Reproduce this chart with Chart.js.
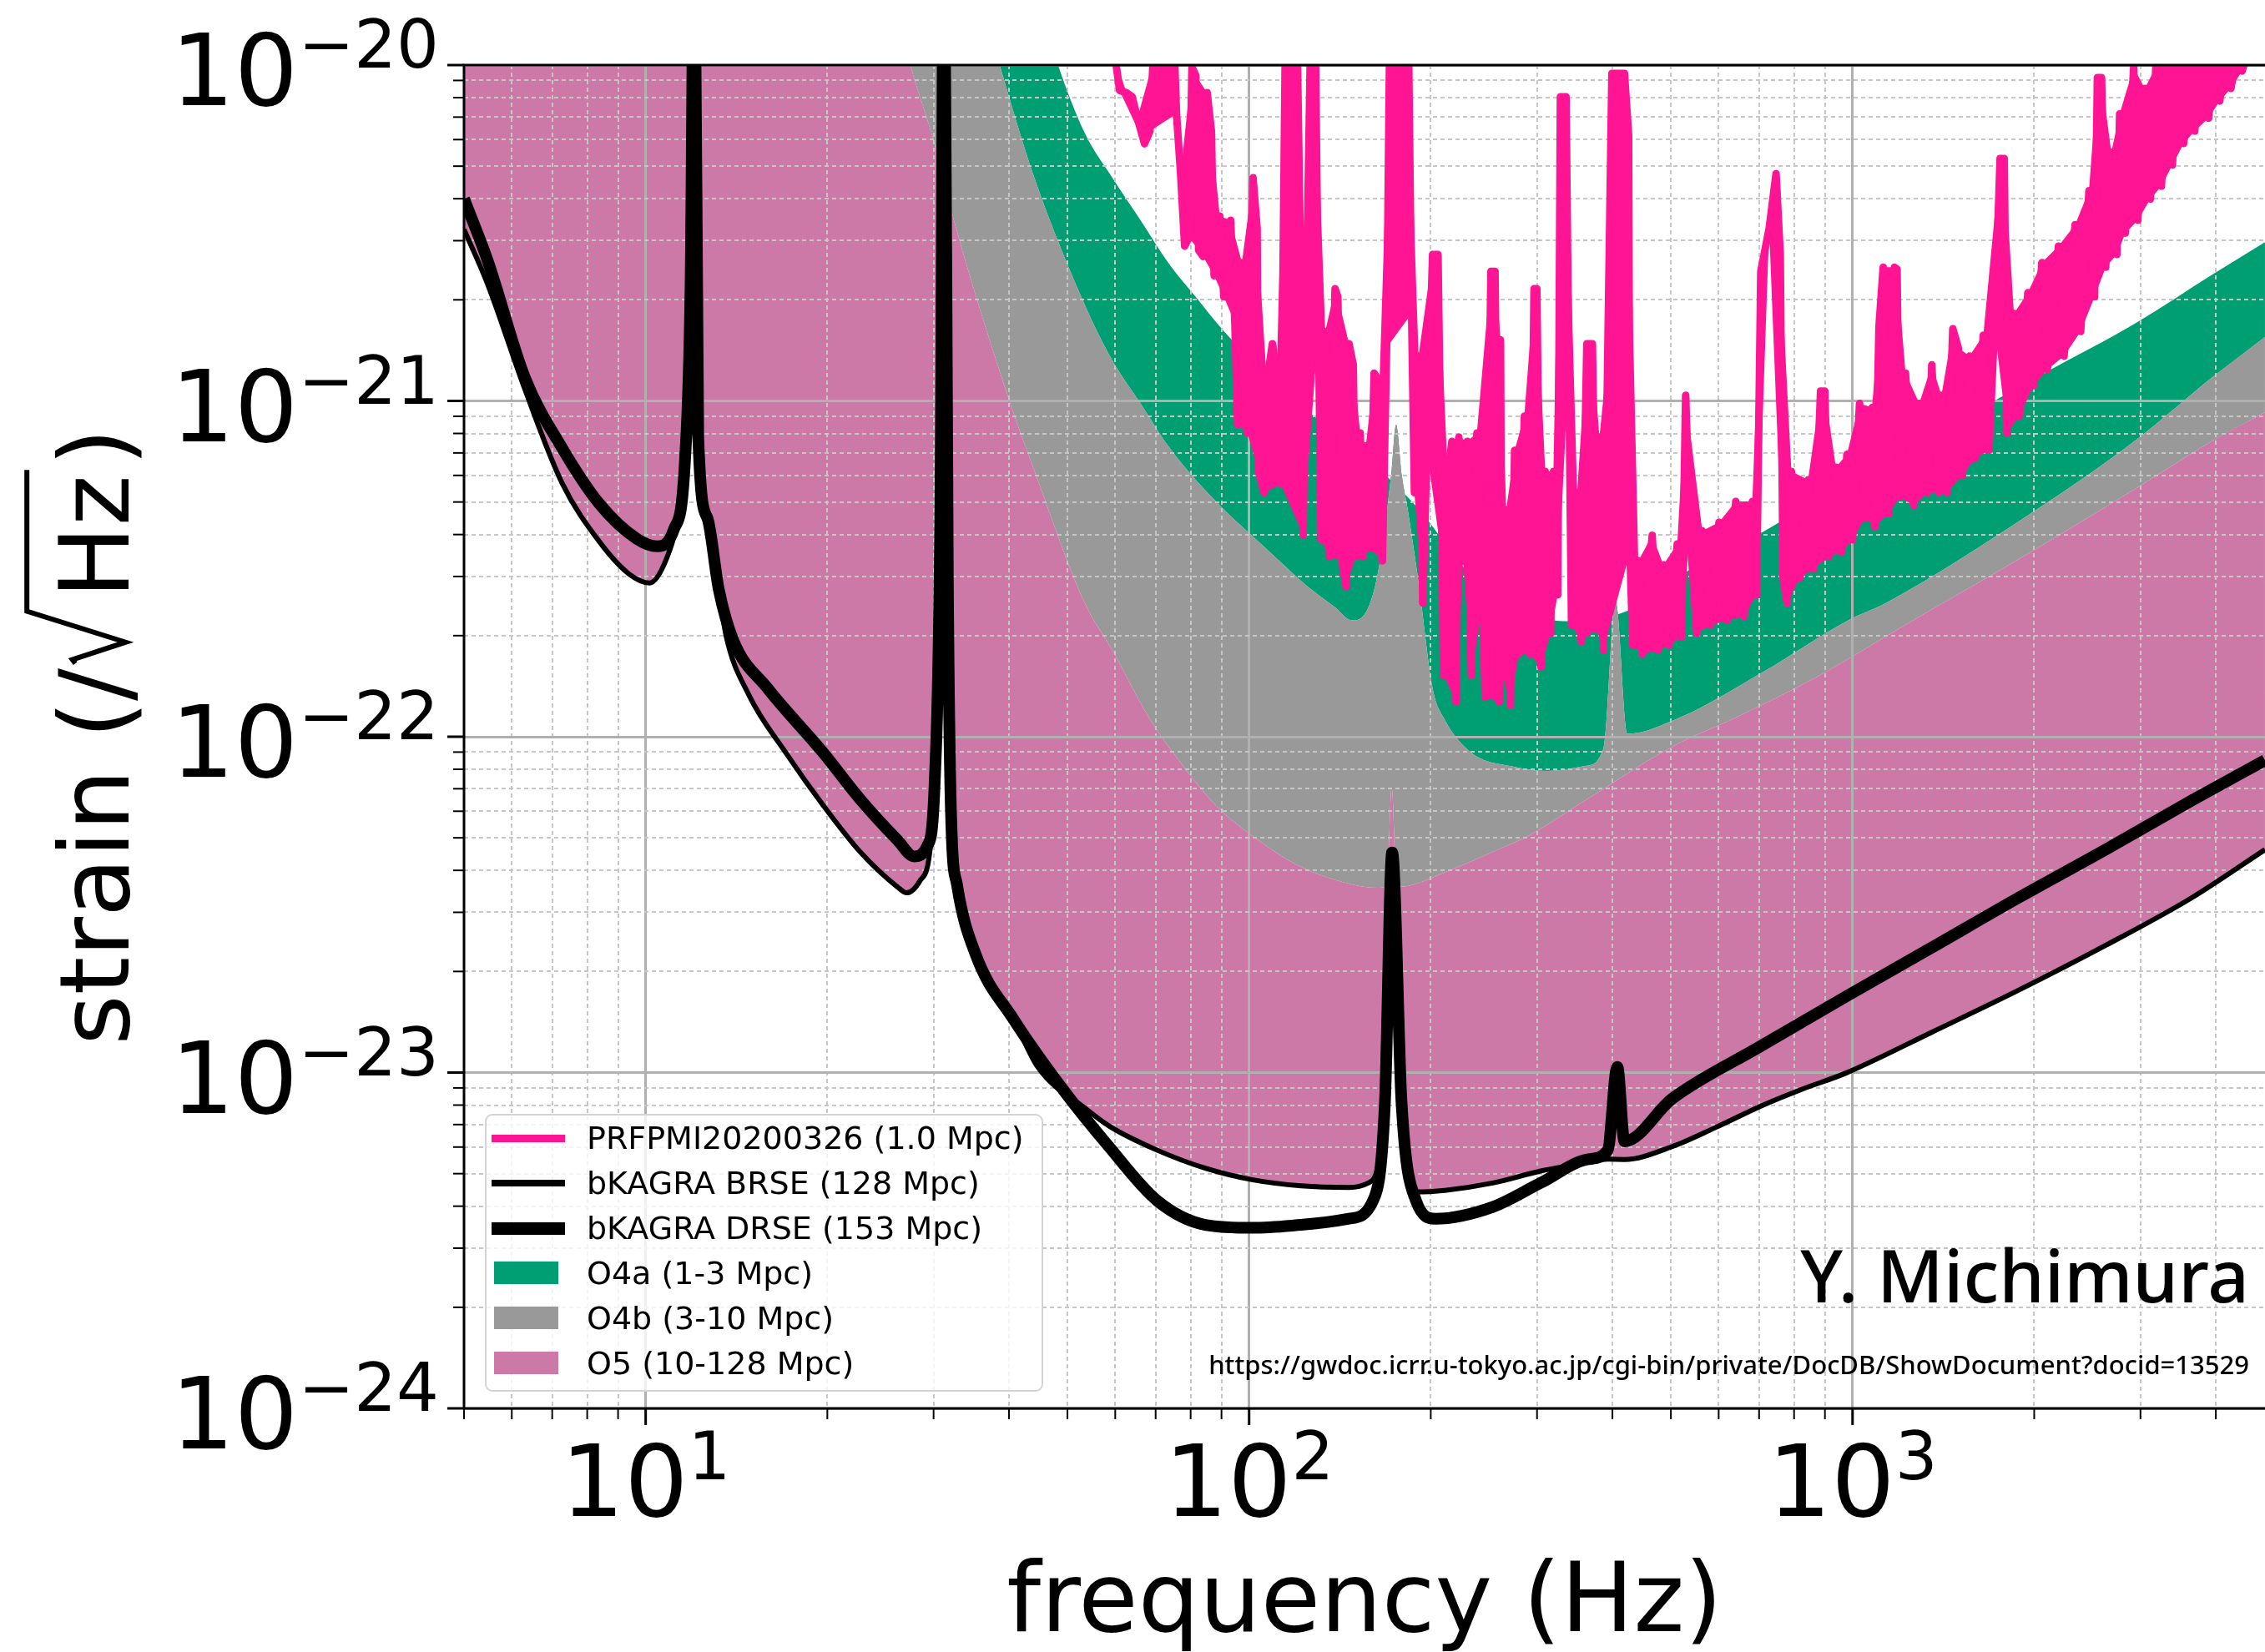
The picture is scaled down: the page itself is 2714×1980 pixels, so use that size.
<!DOCTYPE html>
<html>
<head>
<meta charset="utf-8">
<script src="https://cdn.jsdelivr.net/npm/chart.js@4.4.1/dist/chart.umd.min.js"></script>
<style>
  html, body { margin: 0; padding: 0; background: #fff; overflow: hidden; }
  #wrap { position: relative; width: 2714px; height: 1980px; }
  #chart { position: absolute; left: 0; top: 0; }
  #legend {
    position: absolute; left: 581px; top: 1335px; width: 669px; height: 333px;
    box-sizing: border-box; background: rgba(255,255,255,0.8);
    border: 2px solid #d4d4d4; border-radius: 9px;
    font-family: "DejaVu Sans", sans-serif; font-size: 38px; color: #000;
  }
  #legend .row { position: relative; height: 54px; }
  #legend .key { position: absolute; }
  #legend .text { position: absolute; left: 120px; top: 0; line-height: 54px; white-space: nowrap; }
  .note { position: absolute; right: 19px; font-family: "Noto Sans", sans-serif; color: #000; line-height: 1; white-space: nowrap; }
  #credit { top: 1484px; font-size: 87px; font-weight: 500; }
  #url { top: 1620px; font-size: 31px; font-weight: 500; }
</style>
</head>
<body>
<div id="wrap">
  <canvas id="chart" width="2714" height="1980"></canvas>
  <div id="legend"></div>
  <div id="credit" class="note">Y. Michimura</div>
  <div id="url" class="note">https://gwdoc.icrr.u-tokyo.ac.jp/cgi-bin/private/DocDB/ShowDocument?docid=13529</div>
</div>
<script>
// ── axes ───────────────────────────────────────────────────────────
const freqMin = 5, freqMax = 4825;
const strainMin = 1e-24, strainMax = 1e-20;
const xTickDecades = [10, 100, 1000];
const yTickDecades = [1e-24, 1e-23, 1e-22, 1e-21, 1e-20];

const seriesLabels = [
  'PRFPMI20200326 (1.0 Mpc)',
  'bKAGRA BRSE (128 Mpc)',
  'bKAGRA DRSE (153 Mpc)',
  'O4a (1-3 Mpc)',
  'O4b (3-10 Mpc)',
  'O5 (10-128 Mpc)',
];
const seriesColors = ['#ff1493', '#000000', '#000000', '#009e73', '#999999', '#cc79a7'];

// ── measured PRFPMI spectrum (peaks and troughs of the noisy trace) ─
const prfFreq = [
  60.0, 61.0, 62.6, 64.0, 65.3, 67.1, 68.5, 69.3, 70.0, 75.0,
  75.8, 77.0, 78.2, 79.5, 80.4, 81.6, 82.5, 83.9, 85.2, 86.6,
  87.5, 89.4, 90.8, 93.2, 94.7, 95.7, 97.3, 99.4, 101.5, 103.1,
  103.6, 105.9, 107.0, 109.3, 111.1, 112.9, 114.7, 120.3, 121.6, 122.9,
  124.8, 126.2, 128.9, 130.3, 131.6, 133.7, 135.9, 138.8, 140.3, 142.5,
  144.8, 146.4, 148.8, 150.3, 152.8, 154.4, 156.1, 158.6, 161.1, 164.5,
  166.3, 169.0, 170.8, 183.9, 185.9, 187.9, 190.9, 194.0, 197.1, 201.4,
  205.6, 208.9, 210.0, 213.4, 216.8, 220.3, 222.6, 226.2, 229.8, 233.5,
  238.5, 243.7, 246.2, 251.6, 255.6, 259.7, 261.0, 262.4, 266.7, 271.0,
  275.4, 279.8, 285.8, 291.9, 296.6, 299.8, 304.6, 309.5, 316.0, 319.4,
  324.6, 328.0, 335.1, 338.6, 342.2, 349.6, 355.2, 362.8, 370.6, 376.5,
  380.6, 386.7, 392.9, 399.2, 418.8, 425.5, 427.7, 432.3, 441.5, 448.7,
  465.6, 475.7, 485.8, 496.3, 512.3, 520.7, 529.0, 537.5, 551.9, 563.6,
  581.9, 600.7, 620.1, 640.3, 661.0, 682.3, 693.3, 704.6, 727.4, 746.9,
  758.9, 767.1, 779.4, 791.9, 817.5, 844.0, 861.9, 885.1, 899.5, 914.1,
  938.3, 958.5, 978.8, 1000, 1027, 1049, 1077, 1089, 1106, 1124,
  1148, 1173, 1185, 1198, 1224, 1263, 1290, 1332, 1353, 1389,
  1404, 1434, 1466, 1497, 1521, 1562, 1595, 1647, 1683, 1719,
  1756, 1784, 1803, 1851, 1891, 1952, 1995, 2059, 2103, 2194,
  2241, 2338, 2388, 2465, 2518, 2545, 2586, 2627, 2684, 2742,
  2771, 2831, 2923, 2970, 3049, 3115, 3181, 3250, 3319, 3389,
  3462, 3537, 3612, 3690, 3769, 3891, 3974, 4060, 4147, 4236,
  4327, 4421, 4613, 4917,
];
const prfStrain = [
  1.05e-20, 8.40e-21, 8.28e-21, 8.05e-21, 6.95e-21, 5.83e-21, 6.36e-21, 1.02e-20, 1.24e-20, 1.24e-20,
  7.16e-21, 4.75e-21, 2.89e-21, 3.07e-21, 9.86e-21, 9.30e-21, 2.81e-21, 2.69e-21, 8.28e-21, 6.36e-21,
  2.36e-21, 3.55e-21, 2.04e-21, 3.45e-21, 1.71e-21, 8.50e-22, 2.58e-21, 8.02e-22, 4.62e-21, 3.26e-21,
  6.17e-22, 5.33e-22, 1.14e-21, 1.48e-21, 1.21e-21, 5.65e-22, 9.86e-21, 9.86e-21, 2.81e-21, 3.98e-22,
  2.81e-21, 9.86e-21, 9.86e-21, 1.66e-21, 3.86e-22, 1.61e-21, 3.44e-22, 2.16e-21, 2.04e-21, 3.34e-22,
  2.80e-22, 1.48e-21, 1.28e-21, 3.44e-22, 8.02e-22, 3.44e-22, 7.34e-22, 3.64e-22, 1.21e-21, 1.14e-21,
  3.34e-22, 1.44e-21, 9.86e-21, 9.86e-21, 1.82e-21, 5.33e-22, 1.36e-21, 2.50e-22, 7.13e-22, 2.73e-21,
  2.73e-21, 3.34e-22, 1.52e-22, 5.99e-22, 7.58e-22, 1.27e-22, 7.80e-22, 3.34e-22, 7.58e-22, 1.52e-22,
  8.02e-22, 2.50e-22, 1.31e-22, 2.43e-21, 2.43e-21, 1.27e-22, 1.52e-21, 1.56e-22, 4.74e-22, 1.24e-22,
  7.13e-22, 1.76e-22, 9.01e-22, 1.76e-22, 2.16e-21, 2.16e-21, 1.61e-22, 6.17e-22, 2.03e-22, 6.17e-22,
  2.65e-22, 8.05e-21, 8.05e-21, 1.28e-21, 2.15e-22, 5.33e-22, 1.92e-22, 1.48e-21, 1.48e-21, 2.09e-22,
  7.80e-22, 1.81e-22, 1.36e-21, 9.45e-21, 9.45e-21, 6.18e-21, 3.54e-22, 1.87e-22, 3.34e-22, 1.76e-22,
  3.98e-22, 1.81e-22, 3.25e-22, 1.87e-22, 3.75e-22, 1.98e-22, 1.04e-21, 4.10e-22, 2.03e-22, 4.10e-22,
  2.15e-22, 4.35e-22, 2.22e-22, 5.02e-22, 2.28e-22, 5.02e-22, 2.65e-22, 2.43e-21, 3.26e-21, 4.75e-21,
  2.73e-21, 2.97e-22, 2.50e-22, 6.17e-22, 2.97e-22, 5.82e-22, 3.16e-22, 1.07e-21, 1.07e-21, 3.44e-22,
  6.35e-22, 3.54e-22, 6.93e-22, 3.86e-22, 9.83e-22, 4.48e-22, 9.55e-22, 4.22e-22, 1.66e-21, 2.50e-21,
  4.61e-22, 2.50e-21, 2.47e-21, 5.17e-22, 1.21e-21, 4.88e-22, 9.83e-22, 5.33e-22, 1.28e-21, 5.33e-22,
  1.04e-21, 5.33e-22, 1.64e-21, 1.44e-21, 5.99e-22, 1.36e-21, 6.72e-22, 1.57e-21, 7.13e-22, 1.66e-21,
  5.27e-21, 5.27e-21, 8.02e-22, 1.82e-21, 9.01e-22, 2.10e-21, 1.11e-21, 2.58e-21, 1.24e-21, 2.89e-21,
  1.36e-21, 3.35e-21, 1.61e-21, 4.23e-21, 2.04e-21, 9.18e-21, 9.18e-21, 2.50e-21, 5.50e-21, 2.73e-21,
  7.16e-21, 3.16e-21, 9.86e-21, 3.45e-21, 8.52e-21, 3.99e-21, 9.86e-21, 4.36e-21, 1.02e-20, 5.04e-21,
  1.02e-20, 5.84e-21, 1.02e-20, 6.36e-21, 1.05e-20, 6.95e-21, 1.05e-20, 7.82e-21, 1.05e-20, 8.52e-21,
  1.05e-20, 9.60e-21, 1.24e-20, 1.30e-20,
];

// ── bKAGRA design curves ───────────────────────────────────────────
const brseFreq = [
  5.0, 5.47, 6.31, 7.27, 8.38, 9.39, 10.15, 10.82, 11.30, 11.62,
  11.87, 12.04, 12.22, 12.66, 13.59, 14.80, 17.06, 19.67, 22.67, 26.14,
  27.08, 28.47, 29.71, 30.49, 31.23, 31.68, 32.08, 32.80, 35.18, 40.71,
  44.62, 53.56, 58.69, 70.46, 84.60, 101.5, 121.9, 146.4, 157.5, 167.9,
  172.6, 178.9, 189.1, 211.1, 253.4, 304.1, 365.1, 392.9, 418.8, 502.3,
  592.9, 711.0, 824.8, 973.2, 1355, 1886, 2625, 3654, 4824,
];
const brseStrain = [
  3.24e-21, 2.23e-21, 1.08e-21, 5.69e-22, 3.81e-22, 3.05e-22, 2.87e-22, 3.38e-22, 4.47e-22, 6.68e-22,
  2.23e-21, 3e-20, 7.84e-22, 4.47e-22, 2.00e-22, 1.34e-22, 8.98e-23, 6.26e-23, 4.54e-23, 3.57e-23,
  3.43e-23, 3.72e-23, 4.92e-23, 1.61e-22, 3e-20, 2.85e-22, 5.74e-23, 3.63e-23, 2.26e-23, 1.44e-23,
  1.04e-23, 7.81e-24, 6.92e-24, 5.87e-24, 5.19e-24, 4.79e-24, 4.60e-24, 4.55e-24, 4.69e-24, 8.14e-24,
  4.0e-23, 8.14e-24, 4.41e-24, 4.46e-24, 4.69e-24, 5.09e-24, 5.41e-24, 5.52e-24, 5.51e-24, 6.02e-24,
  6.86e-24, 8.0e-24, 8.92e-24, 9.95e-24, 1.32e-23, 1.76e-23, 2.39e-23, 3.32e-23, 4.61e-23,
];
const drseFreq = [
  5.0, 5.47, 6.31, 7.27, 8.38, 9.66, 10.45, 11.13, 11.62, 11.87,
  12.04, 12.22, 12.66, 13.21, 13.98, 15.89, 19.67, 22.67, 26.14, 27.87,
  29.29, 30.13, 30.78, 31.23, 31.68, 32.08, 32.80, 35.18, 40.71, 48.88,
  58.69, 70.46, 84.60, 101.5, 121.9, 146.4, 160.4, 167.9, 172.6, 178.9,
  189.1, 203.5, 253.4, 304.1, 365.1, 392.9, 407.5, 418.8, 502.3, 699.4,
  973.2, 1355, 1886, 2625, 3654, 4824,
];
const drseStrain = [
  4.0e-21, 2.62e-21, 1.17e-21, 7.24e-22, 4.94e-22, 3.89e-22, 3.69e-22, 4.13e-22, 6.68e-22, 2.23e-21,
  3e-20, 7.84e-22, 4.47e-22, 2.76e-22, 1.93e-22, 1.40e-22, 8.98e-23, 6.51e-23, 4.92e-23, 4.40e-23,
  4.73e-23, 7.35e-23, 4.47e-22, 3e-20, 2.85e-22, 5.74e-23, 3.63e-23, 2.26e-23, 1.44e-23, 9.02e-24,
  5.99e-24, 4.15e-24, 3.52e-24, 3.45e-24, 3.52e-24, 3.67e-24, 4.15e-24, 8.14e-24, 4.52e-23, 8.14e-24,
  4.15e-24, 3.67e-24, 3.98e-24, 4.69e-24, 5.52e-24, 5.87e-24, 1.04e-23, 6.24e-24, 8.36e-24, 1.19e-23,
  1.68e-23, 2.36e-23, 3.32e-23, 4.61e-23, 6.47e-23, 8.51e-23,
];

// ── observing-run band edges (1, 3 and 10 Mpc curves) ──────────────
const mpc1Freq = [
  5, 33, 48.24, 53.42, 59.33, 66.08, 73.42, 81.55, 90.89, 112.2,
  138.8, 162.8, 190.9, 233.3, 274.5, 331.2, 423.3, 517.4, 711.3, 978,
  1290, 2061, 2954, 3933, 4824,
];
const mpc1Strain = [
  1e-15, 1e-19, 1e-20, 6.27e-21, 4.62e-21, 3.45e-21, 2.58e-21, 2.04e-21, 1.61e-21, 1.11e-21,
  7.98e-22, 6.35e-22, 4.77e-22, 3.02e-22, 2.44e-22, 2.21e-22, 2.37e-22, 3.02e-22, 4.08e-22, 5.76e-22,
  7.53e-22, 1.20e-21, 1.71e-21, 2.37e-21, 2.97e-21,
];
const mpc3Freq = [
  5, 26.8, 38.6, 44.11, 53.42, 59.33, 66.08, 73.42, 81.55, 90.89,
  100.9, 112.2, 125.0, 138.8, 148.0, 157.7, 164.4, 171.9, 175.2, 179.1,
  183.2, 190.9, 201.5, 210.0, 233.3, 274.5, 312.7, 360.9, 387.0, 404.8,
  423.3, 517.4, 711.3, 978, 1136, 1971, 2954, 3933, 4824,
];
const mpc3Strain = [
  1e-16, 1e-19, 1e-20, 4.59e-21, 1.93e-21, 1.32e-21, 9.83e-22, 7.34e-22, 5.82e-22, 4.74e-22,
  3.98e-22, 3.34e-22, 2.80e-22, 2.43e-22, 2.22e-22, 2.43e-22, 3.25e-22, 5.99e-22, 8.50e-22, 5.99e-22,
  4.74e-22, 2.88e-22, 1.39e-22, 1.14e-22, 8.97e-23, 8.14e-23, 7.91e-23, 8.18e-23, 9.28e-23, 2.54e-22,
  1.02e-22, 1.14e-22, 1.56e-22, 2.21e-22, 2.50e-22, 4.61e-22, 7.66e-22, 1.17e-21, 1.55e-21,
];
const mpc10Freq = [
  5, 20, 27.45, 30.11, 32.80, 40.09, 44.11, 53.42, 59.33, 68.23,
  74.8, 88.05, 103.6, 121.8, 146.6, 163.3, 169.1, 172.3, 175.7, 185.5,
  210.7, 253.5, 293.4, 360.9, 502.6, 640.4, 880.6, 1211, 1971, 2954,
  3933, 4824,
];
const mpc10Strain = [
  1e-17, 1e-19, 1e-20, 5.84e-21, 3.20e-21, 9.97e-22, 6.17e-22, 2.50e-22, 1.81e-22, 1.14e-22,
  8.97e-23, 6.25e-23, 4.92e-23, 4.10e-23, 3.65e-23, 3.55e-23, 3.57e-23, 7.05e-23, 3.57e-23, 3.61e-23,
  3.94e-23, 4.54e-23, 5.12e-23, 6.47e-23, 9.34e-23, 1.14e-22, 1.52e-22, 2.13e-22, 3.54e-22, 5.50e-22,
  7.58e-22, 9.26e-22,
];

// band = [upper dataset, lower dataset]; later entries paint on top
const bandPairs = [[3, 4], [4, 5], [5, 1]];

// ── helpers ────────────────────────────────────────────────────────
function pts(fs, hs) { return fs.map((f, i) => ({ x: f, y: hs[i] })); }
function isDecade(v) { const l = Math.log10(v); return Math.abs(l - Math.round(l)) < 1e-6; }
function logTicks(min, max) {
  const out = [];
  for (let e = Math.floor(Math.log10(min)); e <= Math.ceil(Math.log10(max)); e++) {
    for (let k = 1; k <= 9; k++) {
      const v = k * Math.pow(10, e);
      if (v >= min * 0.999 && v <= max * 1.001) out.push({ value: v });
    }
  }
  return out;
}
function expText(v) { return String(Math.round(Math.log10(v))).replace('-', '\u2212'); }

// split the noisy trace into its upper / lower edge: peaks go up, troughs go
// down, a point on a slope goes to whichever neighbour it sits closer to
function edge(fs, hs, upper) {
  const out = [];
  hs.forEach((h, i) => {
    const a = i > 0 ? hs[i - 1] : h, b = i < hs.length - 1 ? hs[i + 1] : h;
    const la = Math.log10(a), lb = Math.log10(b), lh = Math.log10(h);
    let top;
    if (lh >= la && lh >= lb) top = true;
    else if (lh <= la && lh <= lb) top = false;
    else top = lh >= (la + lb) / 2;
    if (top === upper) out.push({ x: fs[i], y: h });
  });
  return out;
}

// follow a line element's points (bezier control points when it has them)
function tracePath(ctx, points, reverse, move) {
  const n = points.length;
  let prev = null;
  for (let k = 0; k < n; k++) {
    const p = points[reverse ? n - 1 - k : k];
    if (!prev) {
      if (move) ctx.moveTo(p.x, p.y); else ctx.lineTo(p.x, p.y);
    } else if (p.cp1x === undefined || prev.cp2x === undefined) {
      ctx.lineTo(p.x, p.y);
    } else if (reverse) {
      ctx.bezierCurveTo(prev.cp1x, prev.cp1y, p.cp2x, p.cp2y, p.x, p.y);
    } else {
      ctx.bezierCurveTo(prev.cp2x, prev.cp2y, p.cp1x, p.cp1y, p.x, p.y);
    }
    prev = p;
  }
}

function fillBetween(chart, u, l, color) {
  const { ctx, chartArea: a } = chart;
  const up = chart.getDatasetMeta(u).dataset;
  const lo = chart.getDatasetMeta(l).dataset;
  up.updateControlPoints(a, 'x');
  lo.updateControlPoints(a, 'x');
  ctx.save();
  ctx.beginPath();
  ctx.rect(a.left, a.top, a.right - a.left, a.bottom - a.top);
  ctx.clip();
  ctx.beginPath();
  tracePath(ctx, up.points, false, true);
  tracePath(ctx, lo.points, true, false);
  ctx.closePath();
  ctx.fillStyle = color;
  ctx.fill('nonzero');
  ctx.restore();
}

// observing-run bands go under the grid (matplotlib order),
// the body of the noisy PRFPMI trace goes over it
const bandFill = {
  id: 'bandFill',
  beforeDraw(chart) {
    for (const [u, l] of bandPairs) fillBetween(chart, u, l, chart.data.datasets[u].backgroundColor);
  },
  beforeDatasetsDraw(chart) {
    fillBetween(chart, 6, 7, seriesColors[0]);
  },
};

const gridOpts = {
  color: c => (c.tick && isDecade(c.tick.value)) ? '#b0b0b0' : '#c6c6c6',
  lineWidth: c => (c.tick && isDecade(c.tick.value)) ? 3 : 2,
  drawTicks: false,
};
const borderOpts = {
  display: false,
  dash: c => (c.tick && !isDecade(c.tick.value)) ? [5, 4] : [],
};

// ticks, tick labels, spines and axis titles in matplotlib style
const axisDecor = {
  id: 'axisDecor',
  afterDraw(chart) {
    const { ctx, chartArea: a, scales: { x, y } } = chart;
    ctx.save();
    ctx.strokeStyle = '#000';
    for (const t of x.ticks) {
      const px = x.getPixelForValue(t.value), major = isDecade(t.value);
      ctx.lineWidth = major ? 3 : 2;
      ctx.beginPath(); ctx.moveTo(px, a.bottom); ctx.lineTo(px, a.bottom + (major ? 20 : 13)); ctx.stroke();
    }
    for (const t of y.ticks) {
      const py = y.getPixelForValue(t.value), major = isDecade(t.value);
      ctx.lineWidth = major ? 3 : 2;
      ctx.beginPath(); ctx.moveTo(a.left, py); ctx.lineTo(a.left - (major ? 20 : 13), py); ctx.stroke();
    }
    ctx.lineWidth = 3;
    ctx.beginPath();
    ctx.moveTo(a.right + 2, a.top); ctx.lineTo(a.left, a.top);
    ctx.lineTo(a.left, a.bottom); ctx.lineTo(a.right + 2, a.bottom);
    ctx.stroke();

    const baseFont = '120px "DejaVu Sans"', expFont = '80px "DejaVu Sans"';
    ctx.fillStyle = '#000';
    ctx.textBaseline = 'alphabetic';
    ctx.textAlign = 'left';
    for (const v of xTickDecades) {
      const px = x.getPixelForValue(v), e = expText(v);
      ctx.font = baseFont; const wb = ctx.measureText('10').width;
      ctx.font = expFont; const we = ctx.measureText(e).width;
      const left = px - (wb + we) / 2;
      ctx.font = baseFont; ctx.fillText('10', left, a.bottom + 129);
      ctx.font = expFont; ctx.fillText(e, left + wb, a.bottom + 85);
    }
    for (const v of yTickDecades) {
      const py = y.getPixelForValue(v), e = expText(v);
      ctx.font = baseFont; const wb = ctx.measureText('10').width;
      ctx.font = expFont; const we = ctx.measureText(e).width;
      const right = a.left - 30;
      ctx.fillText(e, right - we, py + 3);
      ctx.font = baseFont; ctx.fillText('10', right - we - wb, py + 48);
    }

    const F = 116;
    ctx.font = F + 'px "DejaVu Sans"';
    ctx.textAlign = 'center';
    ctx.fillText('frequency (Hz)', (a.left + a.right) / 2, 1955);

    // y title: strain (/√Hz)
    ctx.textAlign = 'left';
    ctx.translate(154, (a.top + a.bottom) / 2);
    ctx.rotate(-Math.PI / 2);
    const p1 = 'strain (/', p2 = 'Hz', p3 = ')';
    const w1 = ctx.measureText(p1).width, w3 = ctx.measureText(p3).width;
    const total = w1 + 2.09 * F + w3;
    const x0 = -total / 2, rx = x0 + w1;
    ctx.fillText(p1, x0, 0);
    ctx.fillText(p2, rx + 0.72 * F, 0);
    ctx.fillText(p3, rx + 2.09 * F, 0);
    ctx.lineWidth = 6;
    ctx.lineJoin = 'miter';
    ctx.beginPath();
    ctx.moveTo(rx + 0.05 * F, -0.55 * F);
    ctx.lineTo(rx + 0.09 * F, -0.58 * F);
    ctx.lineTo(rx + 0.27 * F, -0.03 * F);
    ctx.lineTo(rx + 0.59 * F, -1.05 * F);
    ctx.lineTo(rx + 2.05 * F, -1.05 * F);
    ctx.stroke();
    ctx.restore();
  },
};

const smooth = { cubicInterpolationMode: 'monotone', capBezierPoints: false };
const hiddenEdge = { borderWidth: 0, borderColor: 'transparent', fill: false };
const datasets = [
  { label: seriesLabels[0], data: pts(prfFreq, prfStrain), borderColor: seriesColors[0], borderWidth: 9,
    tension: 0, borderJoinStyle: 'round', fill: false, order: 0 },
  { label: seriesLabels[1], data: pts(brseFreq, brseStrain), borderColor: seriesColors[1], borderWidth: 6,
    ...smooth, borderJoinStyle: 'round', fill: false, order: 1 },
  { label: seriesLabels[2], data: pts(drseFreq, drseStrain), borderColor: seriesColors[2], borderWidth: 14,
    ...smooth, borderJoinStyle: 'round', fill: false, order: 2 },
  { label: seriesLabels[3], data: pts(mpc1Freq, mpc1Strain), ...hiddenEdge,
    backgroundColor: seriesColors[3], ...smooth, order: 5 },
  { label: seriesLabels[4], data: pts(mpc3Freq, mpc3Strain), ...hiddenEdge,
    backgroundColor: seriesColors[4], ...smooth, order: 4 },
  { label: seriesLabels[5], data: pts(mpc10Freq, mpc10Strain), ...hiddenEdge,
    backgroundColor: seriesColors[5], ...smooth, order: 3 },
  { label: 'PRFPMI upper edge', data: edge(prfFreq, prfStrain, true), ...hiddenEdge, tension: 0, order: 6 },
  { label: 'PRFPMI lower edge', data: edge(prfFreq, prfStrain, false), ...hiddenEdge, tension: 0, order: 7 },
];

new Chart(document.getElementById('chart'), {
  type: 'line',
  data: { datasets },
  options: {
    responsive: false,
    animation: false,
    devicePixelRatio: 1,
    events: [],
    layout: { autoPadding: false, padding: { left: 556, right: 0, top: 78, bottom: 292 } },
    elements: { point: { radius: 0, hitRadius: 0 } },
    plugins: {
      legend: { display: false },
      tooltip: { enabled: false },
    },
    scales: {
      x: {
        type: 'logarithmic', min: freqMin, max: freqMax,
        afterBuildTicks: s => { s.ticks = logTicks(freqMin, freqMax); },
        ticks: { display: false }, grid: gridOpts, border: borderOpts,
      },
      y: {
        type: 'logarithmic', min: strainMin, max: strainMax,
        afterBuildTicks: s => { s.ticks = logTicks(strainMin, strainMax); },
        ticks: { display: false }, grid: gridOpts, border: borderOpts,
      },
    },
  },
  plugins: [bandFill, axisDecor],
});

// ── legend (bottom-left, inside the axes) ──────────────────────────
const legendEl = document.getElementById('legend');
const handleWidths = [9, 8, 15];
seriesLabels.forEach((label, i) => {
  const row = document.createElement('div');
  row.className = 'row';
  const key = document.createElement('div');
  key.className = 'key';
  key.style.background = seriesColors[i];
  if (i < 3) {
    const t = handleWidths[i];
    Object.assign(key.style, { left: '6px', width: '88px', height: t + 'px', top: (27 - t / 2) + 'px' });
  } else {
    Object.assign(key.style, { left: '9px', width: '77px', height: '27px', top: '13px' });
  }
  const text = document.createElement('div');
  text.className = 'text';
  text.textContent = label;
  row.appendChild(key);
  row.appendChild(text);
  legendEl.appendChild(row);
});
</script>
</body>
</html>
